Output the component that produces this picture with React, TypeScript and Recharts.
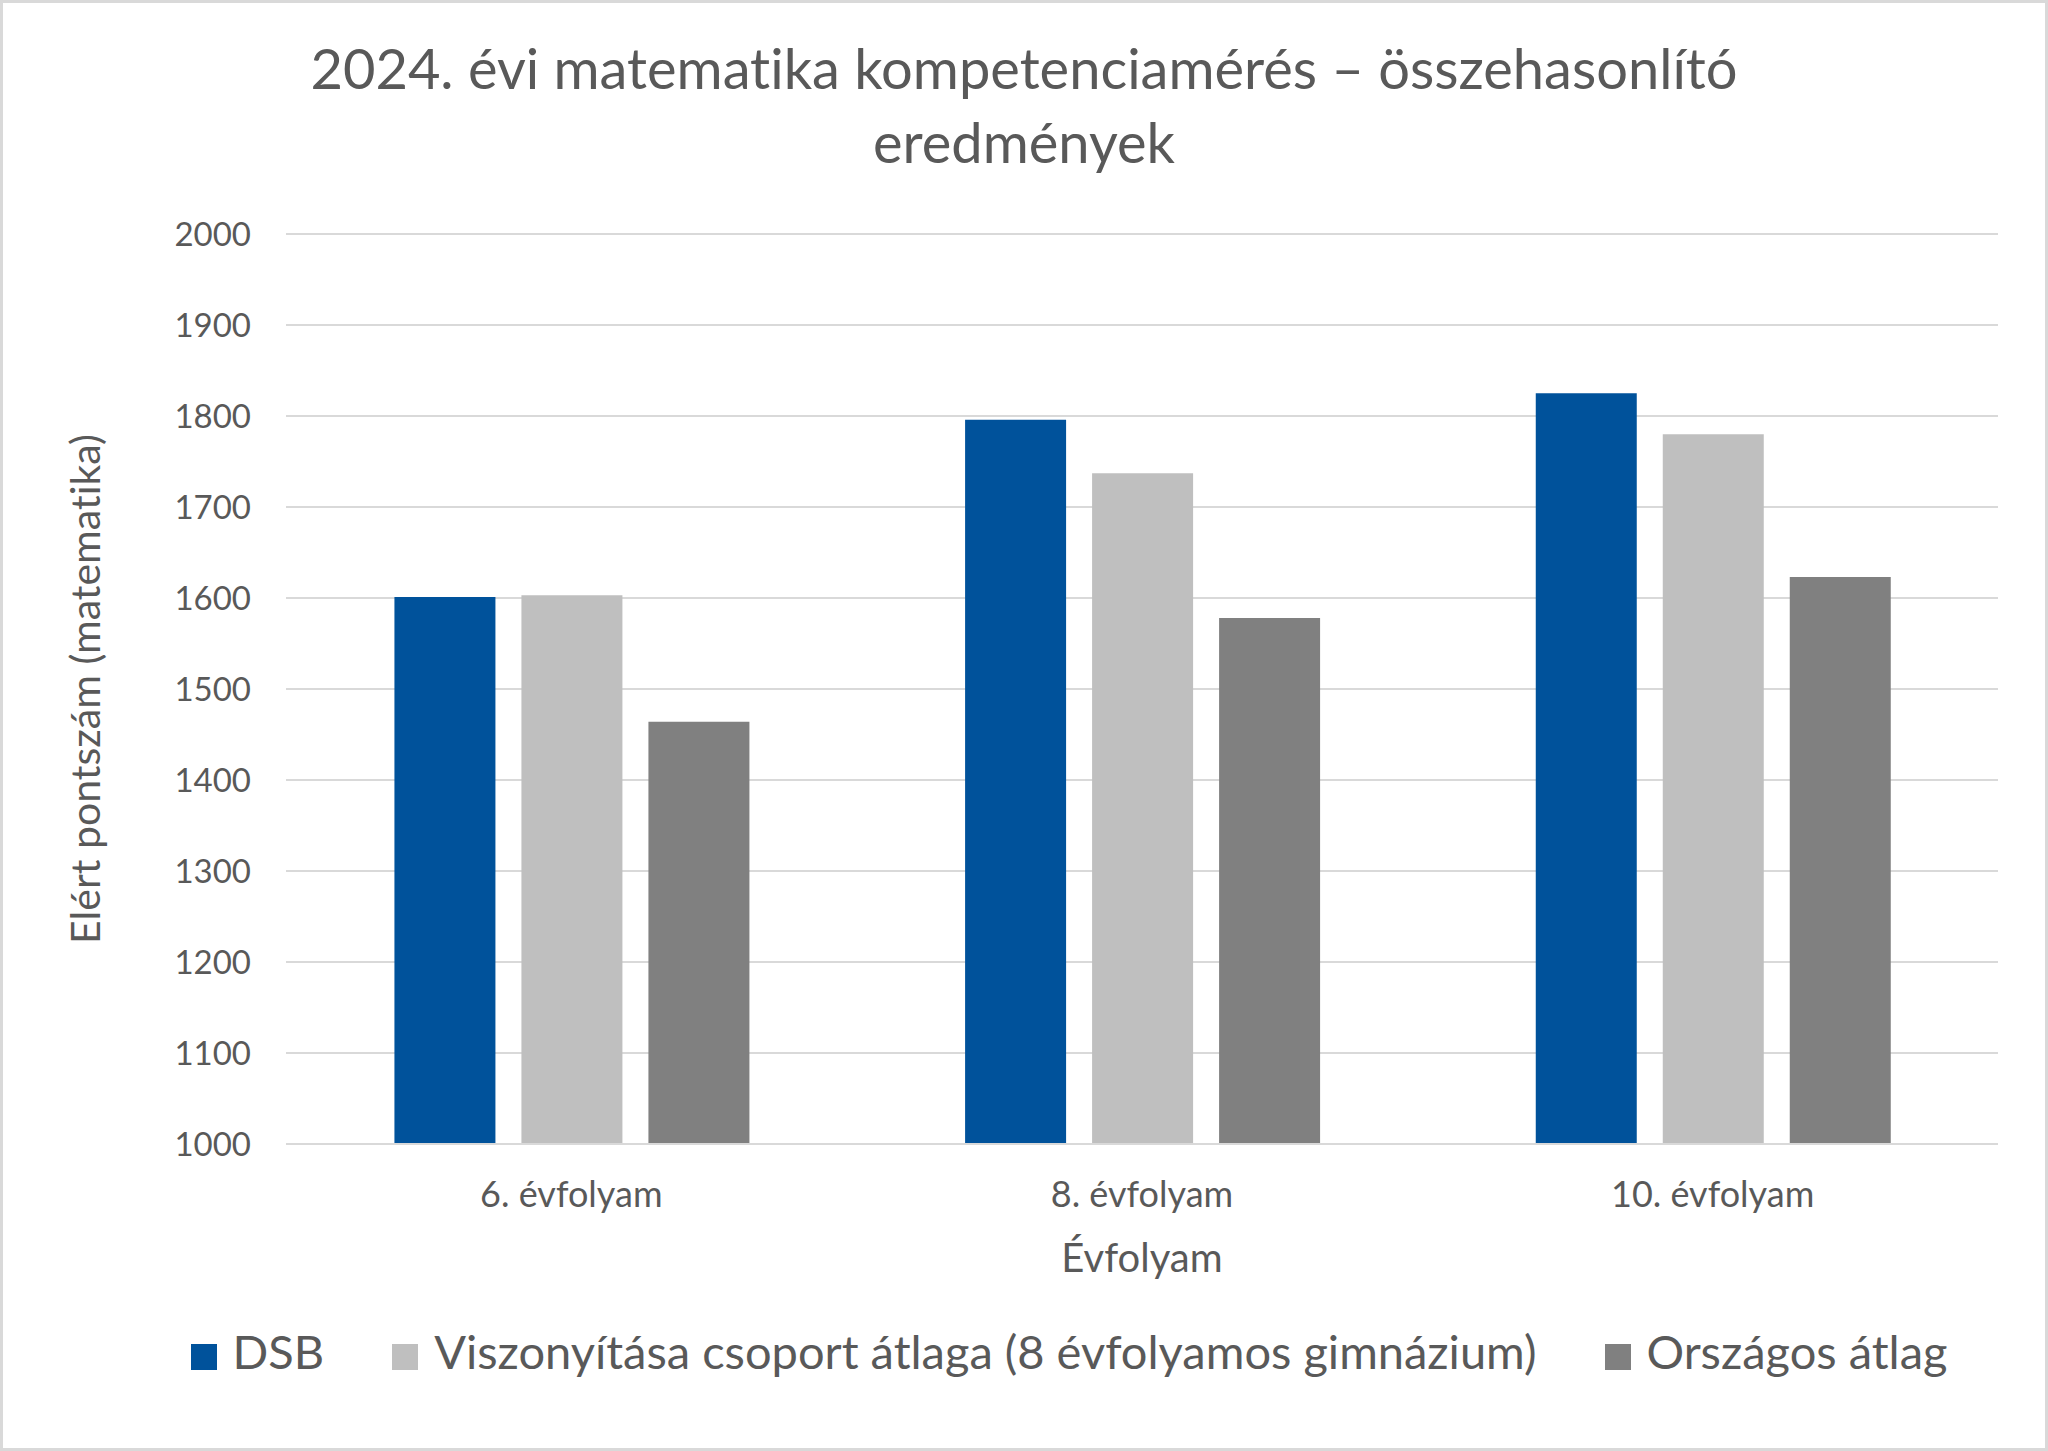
import { BarChart, Bar, XAxis, YAxis, CartesianGrid, Legend } from "recharts";

const CATEGORIES = ["6. évfolyam", "8. évfolyam", "10. évfolyam"];
const DSB = [1601, 1796, 1825];
const REFERENCE_GROUP = [1603, 1737, 1780];
const NATIONAL = [1464, 1578, 1623];
const Y_TICKS = [1000, 1100, 1200, 1300, 1400, 1500, 1600, 1700, 1800, 1900, 2000];

// note: a data key called "ref" ends up spread onto the <path>, so avoid it
const SERIES = [
  { key: "dsb", name: "DSB", color: "#00529B" },
  { key: "group", name: "Viszonyítása csoport átlaga (8 évfolyamos gimnázium)", color: "#BFBFBF" },
  { key: "national", name: "Országos átlag", color: "#808080" },
];

const data = CATEGORIES.map((category, i) => ({
  category,
  dsb: DSB[i],
  group: REFERENCE_GROUP[i],
  national: NATIONAL[i],
}));

const FONT = "Lato, 'Open Sans', sans-serif";
const TEXT = "#595959";
const GRID = "#D9D9D9";

const seriesIndex = (item: any) => SERIES.findIndex((s) => s.name === item.value);

// legend text is grey, not the series colour; spacing between items via margins
const legendFormatter = (value: string, _entry: any, index: number) => (
  <span style={{ color: TEXT, marginLeft: 12, marginRight: index < SERIES.length - 1 ? 58 : 0 }}>
    {value}
  </span>
);

export default function App() {
  return (
    <div
      style={{
        position: "absolute",
        left: 0,
        top: 0,
        width: 2048,
        height: 1451,
        background: "#fff",
        fontFamily: FONT,
        fontVariantLigatures: "none",
      }}
    >
      <div
        style={{
          position: "absolute",
          top: 31,
          left: 0,
          width: 2048,
          textAlign: "center",
          fontSize: 56,
          lineHeight: "74px",
          color: TEXT,
        }}
      >
        <div>2024. évi matematika kompetenciamérés – összehasonlító</div>
        <div>eredmények</div>
      </div>
      <BarChart
        width={2048}
        height={1451}
        data={data}
        margin={{ top: 234, right: 50, bottom: 70, left: 0 }}
        barGap={26}
        barCategoryGap="19%"
      >
        <CartesianGrid vertical={false} stroke={GRID} strokeWidth={2} />
        <XAxis
          dataKey="category"
          height={177}
          axisLine={{ stroke: GRID, strokeWidth: 2 }}
          tickLine={false}
          tickMargin={31}
          tick={{ fill: TEXT, fontSize: 36 }}
          label={{ value: "Évfolyam", position: "insideBottom", offset: 49, fill: TEXT, fontSize: 40 }}
        />
        <YAxis
          width={286}
          domain={[1000, 2000]}
          ticks={Y_TICKS}
          axisLine={false}
          tickLine={false}
          tickMargin={29}
          tick={{ fill: TEXT, fontSize: 33 }}
          label={{
            value: "Elért pontszám (matematika)",
            angle: -90,
            position: "insideLeft",
            offset: 85,
            fill: TEXT,
            fontSize: 41,
            style: { textAnchor: "middle" },
          }}
        />
        <Legend
          verticalAlign="bottom"
          iconType="square"
          iconSize={26}
          itemSorter={seriesIndex}
          formatter={legendFormatter}
          wrapperStyle={{ left: 100, width: 1948, height: 60, lineHeight: "60px", fontSize: 47 }}
        />
        {SERIES.map((s) => (
          <Bar key={s.key} dataKey={s.key} name={s.name} fill={s.color} isAnimationActive={false} />
        ))}
      </BarChart>
      <div
        style={{
          position: "absolute",
          inset: 0,
          border: `3px solid ${GRID}`,
          boxSizing: "border-box",
          pointerEvents: "none",
        }}
      />
    </div>
  );
}
